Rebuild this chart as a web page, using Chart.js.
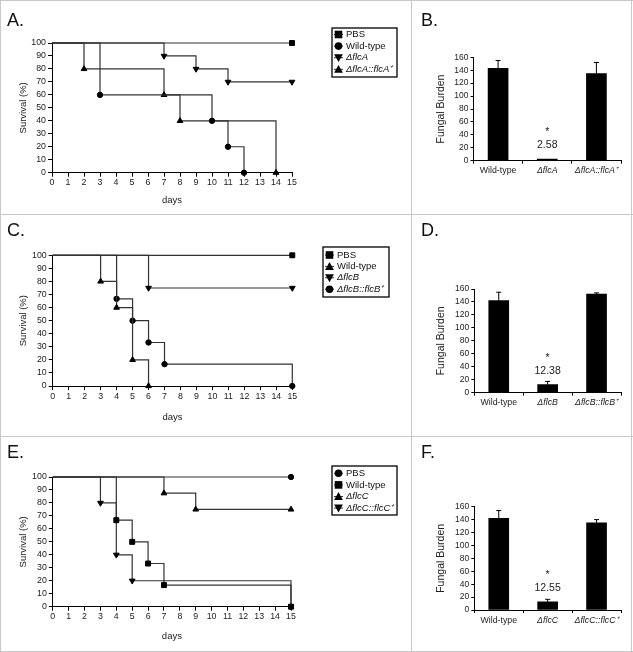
<!DOCTYPE html>
<html>
<head>
<meta charset="utf-8">
<script src="https://cdn.jsdelivr.net/npm/chart.js@4.4.1/dist/chart.umd.min.js"></script>
<style>
  body { margin: 0; background: #fff; font-family: "Liberation Sans", Arial, sans-serif; }
  #fig { position: relative; width: 633px; height: 652px; overflow: hidden; background: #fff; }
  .panel { position: absolute; }
  .rule { position: absolute; background: #c8c8c8; }
  .tag { position: absolute; font-size: 18px; line-height: 18px; color: #111; }
</style>
</head>
<body>
<div id="fig">
  <div class="panel" style="left:0;top:0;width:411px;height:214px"><canvas id="chartA"></canvas></div>
  <div class="panel" style="left:411px;top:0;width:222px;height:214px"><canvas id="chartB"></canvas></div>
  <div class="panel" style="left:0;top:214px;width:411px;height:222px"><canvas id="chartC"></canvas></div>
  <div class="panel" style="left:411px;top:214px;width:222px;height:222px"><canvas id="chartD"></canvas></div>
  <div class="panel" style="left:0;top:436px;width:411px;height:216px"><canvas id="chartE"></canvas></div>
  <div class="panel" style="left:411px;top:436px;width:222px;height:216px"><canvas id="chartF"></canvas></div>

  <div class="rule" style="left:0;top:0;width:633px;height:1px"></div>
  <div class="rule" style="left:0;top:651px;width:633px;height:1px"></div>
  <div class="rule" style="left:0;top:0;width:1px;height:652px"></div>
  <div class="rule" style="left:631px;top:0;width:1px;height:652px"></div>
  <div class="rule" style="left:411px;top:0;width:1px;height:652px"></div>
  <div class="rule" style="left:0;top:214px;width:633px;height:1px"></div>
  <div class="rule" style="left:0;top:436px;width:633px;height:1px"></div>

  <div class="tag" style="left:7px;top:11px">A.</div>
  <div class="tag" style="left:421px;top:11px">B.</div>
  <div class="tag" style="left:7px;top:221px">C.</div>
  <div class="tag" style="left:421px;top:221px">D.</div>
  <div class="tag" style="left:7px;top:443px">E.</div>
  <div class="tag" style="left:421px;top:443px">F.</div>
</div>

<script>
// ---- survival data (day of event, % surviving) ----
// panel A
const aPbsDay = [0, 15];
const aPbsPct = [100, 100];
const aWtDay = [0, 3, 10, 11, 12];
const aWtPct = [100, 60, 40, 20, 0];
const aDelDay = [0, 7, 9, 11, 15];
const aDelPct = [100, 90, 80, 70, 70];
const aRevDay = [0, 2, 7, 8, 14];
const aRevPct = [100, 80, 60, 40, 0];
// panel C
const cPbsDay = [0, 15];
const cPbsPct = [100, 100];
const cWtDay = [0, 3, 4, 5, 6];
const cWtPct = [100, 80, 60, 20, 0];
const cDelDay = [0, 6, 15];
const cDelPct = [100, 75, 75];
const cRevDay = [0, 4, 5, 6, 7, 15];
const cRevPct = [100, 66.7, 50, 33.3, 16.7, 0];
// panel E
const ePbsDay = [0, 15];
const ePbsPct = [100, 100];
const eWtDay = [0, 4, 5, 6, 7, 15];
const eWtPct = [100, 66.7, 50, 33.3, 16.7, 0];
const eDelDay = [0, 7, 9, 15];
const eDelPct = [100, 87.5, 75, 75];
const eRevDay = [0, 3, 4, 5, 15];
const eRevPct = [100, 80, 40, 20, 0];

// ---- fungal burden bars ----
const bCats = ['Wild-type', 'ΔflcA', 'ΔflcA::flcA⁺'];
const bMean = [143, 2.58, 135];
const bErr = [12, 0, 17];
const dCats = ['Wild-type', 'ΔflcB', 'ΔflcB::flcB⁺'];
const dMean = [142, 12.38, 152];
const dErr = [13, 5, 2];
const fCats = ['Wild-type', 'ΔflcC', 'ΔflcC::flcC⁺'];
const fMean = [142, 12.55, 135];
const fErr = [12, 4, 5];

const FONT = '"Liberation Sans", Arial, sans-serif';
Chart.defaults.font.family = FONT;
Chart.defaults.color = '#222';
Chart.defaults.animation = false;

const markerR = { rect: 3.5, circle: 2.7, triangle: 3.3 };

function kmSet(label, days, pct, style, rot) {
  return {
    label: label,
    data: days.map((d, i) => ({ x: d, y: pct[i] })),
    stepped: 'before',
    borderColor: '#333',
    borderWidth: 1.2,
    fill: false,
    clip: false,
    pointStyle: style,
    pointRotation: rot,
    pointRadius: c => (c.dataIndex === 0 ? 0 : markerR[style]),
    pointHoverRadius: 0,
    pointBackgroundColor: '#000',
    pointBorderColor: '#000',
    pointBorderWidth: 1
  };
}

function drawMarker(ctx, style, rot, x, y, r) {
  ctx.fillStyle = '#000';
  ctx.beginPath();
  if (style === 'circle') {
    ctx.arc(x, y, r, 0, Math.PI * 2);
  } else if (style === 'rect') {
    ctx.rect(x - r, y - r, 2 * r, 2 * r);
  } else {
    const s = rot ? -1 : 1;
    ctx.moveTo(x, y - s * r);
    ctx.lineTo(x + r, y + s * r * 0.8);
    ctx.lineTo(x - r, y + s * r * 0.8);
    ctx.closePath();
  }
  ctx.fill();
}

const boxLegend = {
  id: 'boxLegend',
  afterDraw(chart, args, o) {
    const ctx = chart.ctx;
    ctx.save();
    ctx.strokeStyle = '#000';
    ctx.lineWidth = 1.3;
    ctx.strokeRect(o.x, o.y, o.w, o.h);
    chart.data.datasets.forEach((ds, i) => {
      const y = o.y + o.first + i * o.step;
      ctx.strokeStyle = '#333';
      ctx.lineWidth = 1;
      ctx.beginPath();
      ctx.moveTo(o.x + 2, y);
      ctx.lineTo(o.x + 11, y);
      ctx.stroke();
      const r = ds.pointStyle === 'triangle' ? 4.4 : 3.8;
      drawMarker(ctx, ds.pointStyle, ds.pointRotation, o.x + 6.5, y, r);
      ctx.fillStyle = '#111';
      ctx.font = (ds.label.startsWith('Δ') ? 'italic ' : '') + '9.5px ' + FONT;
      ctx.textBaseline = 'middle';
      ctx.textAlign = 'left';
      ctx.fillText(ds.label, o.x + 14, y);
    });
    ctx.restore();
  }
};

const barExtras = {
  id: 'barExtras',
  afterDatasetsDraw(chart, args, o) {
    const ctx = chart.ctx;
    const meta = chart.getDatasetMeta(0);
    const ys = chart.scales.y;
    const vals = chart.data.datasets[0].data;
    ctx.save();
    ctx.strokeStyle = '#000';
    ctx.lineWidth = 1;
    meta.data.forEach((bar, i) => {
      const e = o.err[i];
      if (!e) return;
      const top = ys.getPixelForValue(vals[i] + e);
      ctx.beginPath();
      ctx.moveTo(bar.x, bar.y);
      ctx.lineTo(bar.x, top);
      ctx.moveTo(bar.x - 2.5, top);
      ctx.lineTo(bar.x + 2.5, top);
      ctx.stroke();
    });
    const b = meta.data[o.note];
    const ly = b.y - 14;
    ctx.fillStyle = '#222';
    ctx.textAlign = 'center';
    ctx.textBaseline = 'middle';
    ctx.font = '10.5px ' + FONT;
    ctx.fillText(String(vals[o.note]), b.x, ly);
    ctx.fillText('*', b.x, ly - 13);
    ctx.restore();
  }
};

function survivalChart(id, sets, lay, legend) {
  return new Chart(document.getElementById(id), {
    type: 'line',
    data: { datasets: sets },
    options: {
      responsive: true,
      maintainAspectRatio: false,
      layout: { padding: { top: lay.top, right: lay.right, bottom: 0, left: 0 } },
      plugins: { legend: { display: false }, tooltip: { enabled: false }, boxLegend: legend },
      scales: {
        x: {
          type: 'linear', min: 0, max: 15,
          ticks: { stepSize: 1, autoSkip: false, maxRotation: 0, padding: 1, font: { size: 8.8 } },
          grid: { drawOnChartArea: false, tickLength: 4, tickColor: '#000' },
          border: { color: '#000', width: 1 },
          title: { display: true, text: 'days', font: { size: 9.5 }, padding: { top: 0, bottom: lay.xTitle } },
          afterFit: s => { s.height = lay.xH; }
        },
        y: {
          min: 0, max: 100,
          ticks: { stepSize: 10, autoSkip: false, padding: 2, font: { size: 8.8 } },
          grid: { drawOnChartArea: false, tickLength: 4, tickColor: '#000' },
          border: { color: '#000', width: 1 },
          title: { display: true, text: 'Survival (%)', font: { size: 9.5 }, padding: { top: lay.yTitle, bottom: 0 } },
          afterFit: s => { s.width = lay.yW; }
        }
      }
    },
    plugins: [boxLegend]
  });
}

function barChart(id, cats, mean, err, lay) {
  return new Chart(document.getElementById(id), {
    type: 'bar',
    data: {
      labels: cats,
      datasets: [{ data: mean, backgroundColor: '#000', borderWidth: 0, barThickness: 20 }]
    },
    options: {
      responsive: true,
      maintainAspectRatio: false,
      layout: { padding: { top: lay.top, right: lay.right, bottom: 0, left: 0 } },
      plugins: { legend: { display: false }, tooltip: { enabled: false }, barExtras: { err: err, note: 1 } },
      scales: {
        x: {
          ticks: {
            autoSkip: false, maxRotation: 0, padding: 2,
            font: c => ({ size: 8.8, style: c.index ? 'italic' : 'normal' })
          },
          grid: { drawOnChartArea: false, tickLength: 3, tickColor: '#000' },
          border: { color: '#000', width: 1 },
          afterFit: s => { s.height = lay.xH; }
        },
        y: {
          min: 0, max: 160,
          ticks: { stepSize: 20, autoSkip: false, padding: 2, font: { size: 8.5 } },
          grid: { drawOnChartArea: false, tickLength: 3, tickColor: '#000' },
          border: { color: '#000', width: 1 },
          title: { display: true, text: 'Fungal Burden', font: { size: 10.5 }, padding: { top: lay.yTitle, bottom: 0 } },
          afterFit: s => { s.width = lay.yW; }
        }
      }
    },
    plugins: [barExtras]
  });
}

survivalChart('chartA', [
  kmSet('PBS', aPbsDay, aPbsPct, 'rect', 0),
  kmSet('Wild-type', aWtDay, aWtPct, 'circle', 0),
  kmSet('ΔflcA', aDelDay, aDelPct, 'triangle', 180),
  kmSet('ΔflcA::flcA⁺', aRevDay, aRevPct, 'triangle', 0)
], { top: 43, right: 119, yW: 52, xH: 41.3, xTitle: 7.6, yTitle: 17.3 },
   { x: 332, y: 28, w: 65, h: 49, first: 6.5, step: 11.6 });

survivalChart('chartC', [
  kmSet('PBS', cPbsDay, cPbsPct, 'rect', 0),
  kmSet('Wild-type', cWtDay, cWtPct, 'triangle', 0),
  kmSet('ΔflcB', cDelDay, cDelPct, 'triangle', 180),
  kmSet('ΔflcB::flcB⁺', cRevDay, cRevPct, 'circle', 0)
], { top: 41.3, right: 118.7, yW: 52.7, xH: 50, xTitle: 12.6, yTitle: 17.3 },
   { x: 323, y: 33, w: 66, h: 50, first: 8, step: 11.4 });

survivalChart('chartE', [
  kmSet('PBS', ePbsDay, ePbsPct, 'circle', 0),
  kmSet('Wild-type', eWtDay, eWtPct, 'rect', 0),
  kmSet('ΔflcC', eDelDay, eDelPct, 'triangle', 0),
  kmSet('ΔflcC::flcC⁺', eRevDay, eRevPct, 'triangle', 180)
], { top: 41, right: 120, yW: 52.8, xH: 45.3, xTitle: 9.9, yTitle: 17.3 },
   { x: 332, y: 30, w: 65, h: 49, first: 7.3, step: 11.6 });

barChart('chartB', bCats, bMean, bErr, { top: 57.3, right: 12, yW: 62.5, xH: 53.3, yTitle: 23.9 });
barChart('chartD', dCats, dMean, dErr, { top: 75, right: 12, yW: 63.3, xH: 43.3, yTitle: 23.9 });
barChart('chartF', fCats, fMean, fErr, { top: 70.7, right: 12, yW: 63.3, xH: 42, yTitle: 23.9 });
</script>
</body>
</html>
